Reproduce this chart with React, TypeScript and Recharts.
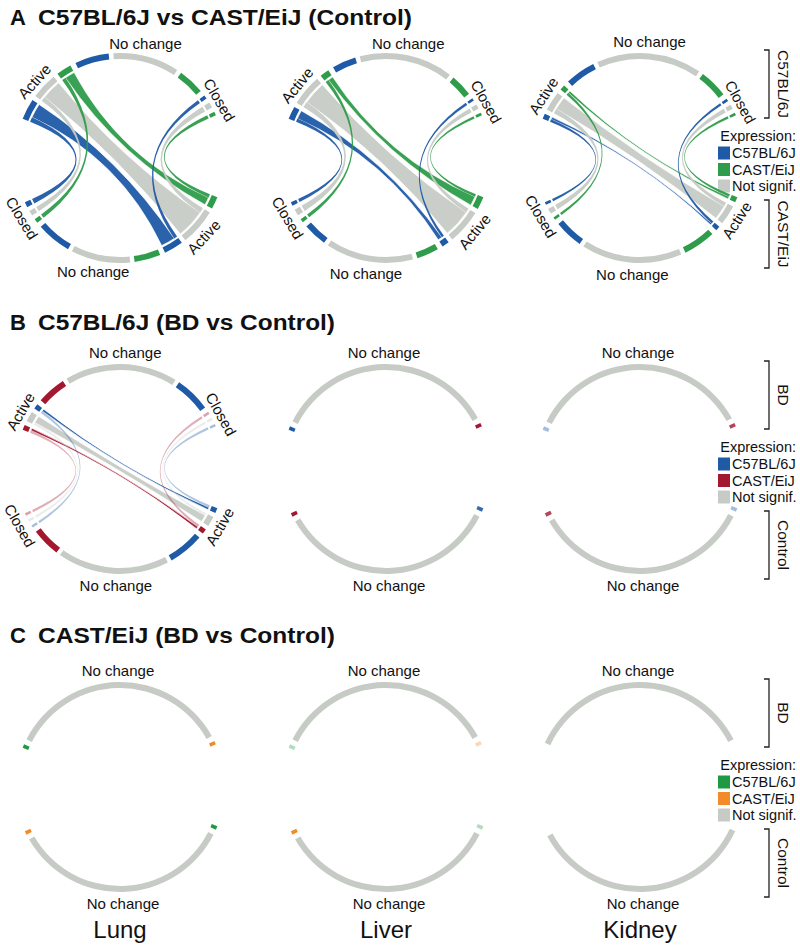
import React from 'react';
import { PieChart, Pie, Cell, Customized } from 'recharts';

const FONT = '"Liberation Sans", Arial, Helvetica, sans-serif';
const BLUE = '#1f5aa6';
const GREEN = '#2e9c4a';
const GRAY = '#c7cbc5';
const RED = '#a3172f';
const GREEN_C = '#1f9a44';
const ORANGE = '#f28b2c';

const tissues = ['Lung', 'Liver', 'Kidney'];
const groupNames = ['Active', 'No change', 'Closed'];
const exprNames = ['C57BL/6J', 'Not signif.', 'CAST/EiJ'];

// block widths per expression class [C57BL/6J, Not signif., CAST/EiJ], one triple per tissue
// A: C57BL/6J vs CAST/EiJ (Control)
const aTopActive = [[11, 14, 8], [7, 17, 5], [3, 11, 3]];
const aTopNoChange = [[18, 35, 14], [13, 51, 12], [17, 59, 16]];
const aTopClosed = [[2, 3, 2], [1.5, 2.5, 1.5], [1.5, 2.5, 1.5]];
const aBotClosed = [[3, 3, 2.5], [2, 3.5, 2], [1.5, 3, 1.5]];
const aBotNoChange = [[20, 34, 15], [13, 48, 12], [16, 56, 18]];
const aBotActive = [[11, 21, 7], [4, 19, 7], [2.5, 11, 3]];
const aLinked = [true, true, true];

// B: C57BL/6J (BD vs Control)
const bTopActive = [[3, 6, 3], [2, 0, 0], [2, 0, 0]];
const bTopNoChange = [[21, 66, 17], [0, 123, 0], [0, 125, 0]];
const bTopClosed = [[1.5, 1.5, 1.5], [0, 0, 2], [0, 0, 2]];
const bBotClosed = [[1.5, 1.5, 1.5], [0, 0, 2], [0, 0, 2]];
const bBotNoChange = [[21, 66, 17], [0, 121, 0], [0, 122, 0]];
const bBotActive = [[3, 6, 3], [2, 0, 0], [2, 0, 0]];
const bLinked = [true, false, false];

// C: CAST/EiJ (BD vs Control)
const cTopActive = [[2, 0, 0], [2, 0, 0], [0, 0, 0]];
const cTopNoChange = [[0, 122, 0], [0, 122, 0], [0, 129, 0]];
const cTopClosed = [[0, 0, 2], [0, 0, 2], [0, 0, 0]];
const cBotClosed = [[0, 0, 2], [0, 0, 2], [0, 0, 0]];
const cBotNoChange = [[0, 122, 0], [0, 122, 0], [0, 130, 0]];
const cBotActive = [[2, 0, 0], [2, 0, 0], [0, 0, 0]];
const cLinked = [false, false, false];

// opacity of the end blocks [top Active, top Closed, bottom Closed, bottom Active]
const bFade = [[1, 0.4, 0.4, 1], [1, 1, 1, 0.9], [0.4, 0.8, 0.8, 0.4]];
const cFade = [[1, 1, 1, 1], [0.35, 0.35, 1, 0.35], [1, 1, 1, 1]];

const COLS = [120, 386, 640];
const R_OUT = 105;
const R_IN = 99;
const R_CHORD = 97;
const GAP_IN = 2.5;
const GAP_GROUP = 3;
const TOP_START = 158;
const TOP_END = 24;
const BOT_START = 205;
const BOT_END = 338;

const rows = [
  {
    letter: 'A', title: 'C57BL/6J vs CAST/EiJ (Control)', titleEnd: 412, titleY: 25, cy: 158,
    topName: 'C57BL/6J', botName: 'CAST/EiJ', colors: [BLUE, GRAY, GREEN], order: [0, 1, 2],
    topActive: aTopActive, topNoChange: aTopNoChange, topClosed: aTopClosed,
    botClosed: aBotClosed, botNoChange: aBotNoChange, botActive: aBotActive,
    linked: aLinked, thinOpacity: 0.95, fade: null as number[][] | null,
  },
  {
    letter: 'B', title: 'C57BL/6J (BD vs Control)', titleEnd: 335, titleY: 330, cy: 469,
    topName: 'BD', botName: 'Control', colors: [BLUE, GRAY, RED], order: [2, 1, 0],
    topActive: bTopActive, topNoChange: bTopNoChange, topClosed: bTopClosed,
    botClosed: bBotClosed, botNoChange: bBotNoChange, botActive: bBotActive,
    linked: bLinked, thinOpacity: 0.35, fade: bFade,
  },
  {
    letter: 'C', title: 'CAST/EiJ (BD vs Control)', titleEnd: 335, titleY: 643, cy: 787,
    topName: 'BD', botName: 'Control', colors: [GREEN_C, GRAY, ORANGE], order: [0, 1, 2],
    topActive: cTopActive, topNoChange: cTopNoChange, topClosed: cTopClosed,
    botClosed: cBotClosed, botNoChange: cBotNoChange, botActive: cBotActive,
    linked: cLinked, thinOpacity: 0.35, fade: cFade,
  },
];

type Seg = { id: string; value: number; gap: boolean; group: number; expr: number; a0: number; a1: number; lo: number; hi: number };

function layoutHalf(groupVals: number[][], groupIds: number[], order: number[], start: number, end: number, tag: string) {
  const segs: Seg[] = [];
  const blank = { a0: 0, a1: 0, lo: 0, hi: 0 };
  groupVals.forEach((vals, gi) => {
    if (gi > 0) segs.push({ id: `${tag}-gg${gi}`, value: GAP_GROUP, gap: true, group: -1, expr: -1, ...blank });
    let first = true;
    order.forEach((e) => {
      if (!(vals[e] > 0)) return;
      if (!first) segs.push({ id: `${tag}-gi${gi}${e}`, value: GAP_IN, gap: true, group: -1, expr: -1, ...blank });
      first = false;
      segs.push({ id: `${tag}-${gi}${e}`, value: vals[e], gap: false, group: groupIds[gi], expr: e, ...blank });
    });
  });
  // same proportional rule the Pie uses (paddingAngle 0)
  const total = segs.reduce((s, d) => s + d.value, 0);
  let acc = 0;
  segs.forEach((d) => {
    d.a0 = start + ((end - start) * acc) / total;
    acc += d.value;
    d.a1 = start + ((end - start) * acc) / total;
    d.lo = Math.min(d.a0, d.a1);
    d.hi = Math.max(d.a0, d.a1);
  });
  return segs;
}

const pt = (cx: number, cy: number, r: number, a: number) => {
  const rad = (-a * Math.PI) / 180;
  return [cx + r * Math.cos(rad), cy + r * Math.sin(rad)];
};

function ribbonPath(cx: number, cy: number, r: number, s0: number, s1: number, t0: number, t1: number) {
  const f = (n: number) => n.toFixed(2);
  const [x0, y0] = pt(cx, cy, r, s0);
  const [x1, y1] = pt(cx, cy, r, s1);
  const [x2, y2] = pt(cx, cy, r, t0);
  const [x3, y3] = pt(cx, cy, r, t1);
  return `M${f(x0)},${f(y0)}A${r},${r} 0 0 0 ${f(x1)},${f(y1)}Q${cx},${cy} ${f(x2)},${f(y2)}A${r},${r} 0 0 0 ${f(x3)},${f(y3)}Q${cx},${cy} ${f(x0)},${f(y0)}Z`;
}

const panels = rows.flatMap((row, ri) =>
  tissues.map((tissue, ti) => {
    const cx = COLS[ti];
    const cy = row.cy;
    const top = layoutHalf([row.topActive[ti], row.topNoChange[ti], row.topClosed[ti]], [0, 1, 2], row.order, TOP_START, TOP_END, `t${ri}${ti}`);
    const bot = layoutHalf([row.botClosed[ti], row.botNoChange[ti], row.botActive[ti]], [2, 1, 0], row.order, BOT_START, BOT_END, `b${ri}${ti}`);
    const fade = row.fade ? row.fade[ti] : [1, 1, 1, 1];
    const opacityOf = (half: string, g: number) => {
      if (g === 1) return 1;
      if (half === 'top') return g === 0 ? fade[0] : fade[1];
      return g === 2 ? fade[2] : fade[3];
    };
    const ribbons: { d: string; fill: string; op: number; thin: boolean }[] = [];
    if (row.linked[ti]) {
      const find = (segs: Seg[], g: number, e: number) => segs.find((s) => !s.gap && s.group === g && s.expr === e);
      [1, 0, 2].forEach((e) => {
        const tA = find(top, 0, e);
        const tC = find(top, 2, e);
        const bC = find(bot, 2, e);
        const bA = find(bot, 0, e);
        const wl = bC ? bC.hi - bC.lo : 0;
        const wr = tC ? tC.hi - tC.lo : 0;
        if (tA && bA) {
          ribbons.push({ d: ribbonPath(cx, cy, R_CHORD, tA.lo, tA.hi - wl, bA.lo, bA.hi - wr), fill: row.colors[e], op: 0.95, thin: false });
        }
      });
      [1, 0, 2].forEach((e) => {
        const tA = find(top, 0, e);
        const tC = find(top, 2, e);
        const bC = find(bot, 2, e);
        const bA = find(bot, 0, e);
        if (tA && bC) {
          const wl = bC.hi - bC.lo;
          ribbons.push({ d: ribbonPath(cx, cy, R_CHORD, tA.hi - wl, tA.hi, bC.lo, bC.hi), fill: row.colors[e], op: row.thinOpacity, thin: true });
        }
        if (tC && bA) {
          const wr = tC.hi - tC.lo;
          ribbons.push({ d: ribbonPath(cx, cy, R_CHORD, tC.lo, tC.hi, bA.hi - wr, bA.hi), fill: row.colors[e], op: row.thinOpacity, thin: true });
        }
      });
    }
    const groupMid = (segs: Seg[], g: number) => {
      const list = segs.filter((s) => !s.gap && s.group === g);
      if (!list.length) return null;
      return (list[0].a0 + list[list.length - 1].a1) / 2;
    };
    return { key: `${ri}-${ti}`, row, ri, ti, cx, cy, top, bot, ribbons, opacityOf, groupMid };
  })
);

function Overlay() {
  return (
    <g fontFamily={FONT} fill="#111">
      {rows.map((row) => (
        <g key={row.letter}>
          <text x={10} y={row.titleY} fontSize={22} fontWeight="bold">{row.letter}</text>
          <text x={38} y={row.titleY} fontSize={22} fontWeight="bold" textLength={row.titleEnd - 38} lengthAdjust="spacingAndGlyphs">
            {row.title}
          </text>
          <path d={`M764,${row.cy - 108}H769V${row.cy - 40}H764`} fill="none" stroke="#222" strokeWidth={1.3} />
          <path d={`M764,${row.cy + 42}H769V${row.cy + 110}H764`} fill="none" stroke="#222" strokeWidth={1.3} />
          <text x={783} y={row.cy - 74} fontSize={15.5} textAnchor="middle" dominantBaseline="central" transform={`rotate(90 783 ${row.cy - 74})`}>
            {row.topName}
          </text>
          <text x={783} y={row.cy + 76} fontSize={15.5} textAnchor="middle" dominantBaseline="central" transform={`rotate(90 783 ${row.cy + 76})`}>
            {row.botName}
          </text>
          <text x={796} y={row.cy - 22} fontSize={14.5} textAnchor="end" dominantBaseline="central">Expression:</text>
          {[0, 2, 1].map((e, k) => (
            <g key={e}>
              <rect x={718} y={row.cy - 11.5 + k * 16.5} width={12} height={13} fill={row.colors[e]} />
              <text x={732} y={row.cy - 5 + k * 16.5} fontSize={14.5} dominantBaseline="central">{exprNames[e]}</text>
            </g>
          ))}
        </g>
      ))}
      {panels.map((p) => (
        <g key={p.key}>
          {p.ribbons.map((r, i) => (
            <path key={i} d={r.d} fill={r.fill} fillOpacity={r.op} stroke={r.thin ? 'none' : '#fff'} strokeWidth={0.6} />
          ))}
          {[
            { segs: p.top, half: 'top' },
            { segs: p.bot, half: 'bot' },
          ].map(({ segs, half }) =>
            [0, 1, 2].map((g) => {
              const mid = p.groupMid(segs, g);
              if (mid === null) return null;
              if (g !== 1 && !p.row.linked[p.ti]) return null;
              const [x, y] = pt(p.cx, p.cy, g === 1 ? 117 : 115, mid);
              const rot = g === 1 ? 0 : half === 'top' ? 90 - mid : 270 - mid;
              return (
                <text key={`${half}${g}`} x={x} y={y} fontSize={15} textAnchor="middle" dominantBaseline="central" transform={`rotate(${rot} ${x} ${y})`}>
                  {groupNames[g]}
                </text>
              );
            })
          )}
        </g>
      ))}
      {tissues.map((t, ti) => (
        <text key={t} x={COLS[ti]} y={938} fontSize={24} textAnchor="middle">{t}</text>
      ))}
    </g>
  );
}

export default function App() {
  return (
    <div style={{ position: 'absolute', left: 0, top: 0, width: 800, height: 950, background: '#fff' }}>
      <PieChart width={800} height={950} margin={{ top: 0, right: 0, bottom: 0, left: 0 }}>
        {panels.flatMap((p) =>
          [
            { segs: p.top, half: 'top', start: TOP_START, end: TOP_END },
            { segs: p.bot, half: 'bot', start: BOT_START, end: BOT_END },
          ].map(({ segs, half, start, end }) => (
            <Pie
              key={`${p.key}-${half}`}
              data={segs}
              dataKey="value"
              nameKey="id"
              cx={p.cx}
              cy={p.cy}
              innerRadius={R_IN}
              outerRadius={R_OUT}
              startAngle={start}
              endAngle={end}
              stroke="none"
              isAnimationActive={false}
            >
              {segs.map((s) => (
                <Cell
                  key={s.id}
                  fill={s.gap ? 'none' : p.row.colors[s.expr]}
                  fillOpacity={s.gap ? 0 : p.opacityOf(half, s.group)}
                />
              ))}
            </Pie>
          ))
        )}
        <Customized component={<Overlay />} />
      </PieChart>
    </div>
  );
}
